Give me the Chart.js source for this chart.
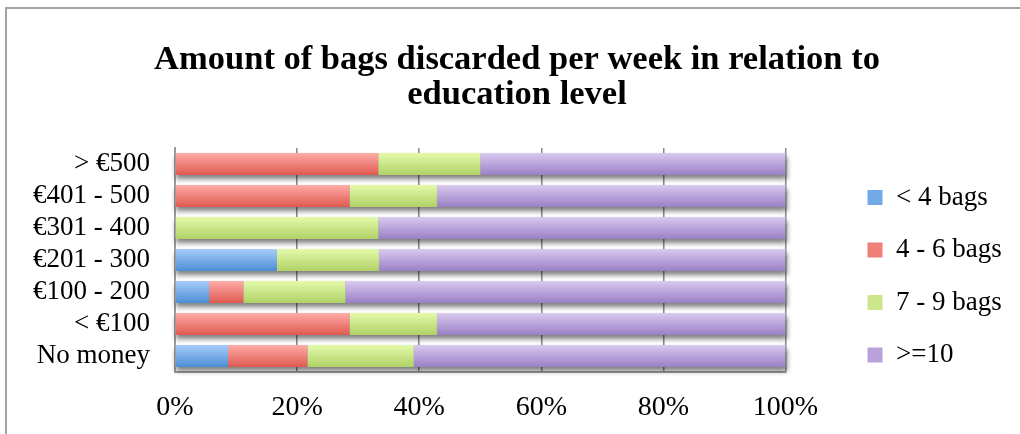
<!DOCTYPE html>
<html>
<head>
<meta charset="utf-8">
<script src="https://cdn.jsdelivr.net/npm/chart.js@4/dist/chart.umd.min.js"></script>
<style>
    body { margin: 0; background: #fff; }
    #wrap { position: relative; width: 1020px; height: 434px; overflow: hidden; }
    #frame {
        position: absolute; left: 5px; top: 7px; width: 1100px; height: 500px;
        border-top: 2px solid #a3a3a3; border-left: 2px solid #a3a3a3;
    }
    canvas { position: absolute; left: 0; top: 0; }
</style>
</head>
<body>
<div id="wrap">
    <div id="frame"></div>
    <canvas id="bags-chart" width="1020" height="434"></canvas>
</div>
<script>
let categories = ["> €500", "€401 - 500", "€301 - 400", "€201 - 300", "€100 - 200", "< €100", "No money"];
let seriesNames = ["< 4 bags", "4 - 6 bags", "7 - 9 bags", ">=10"];
let under4 = [0, 0, 0, 16.7, 5.6, 0, 8.7];
let from4to6 = [33.3, 28.6, 0, 0, 5.6, 28.6, 13.0];
let from7to9 = [16.7, 14.3, 33.3, 16.7, 16.7, 14.3, 17.4];
let over10 = [50, 57.1, 66.7, 66.6, 72.1, 57.1, 60.9];
let tickValues = [0, 20, 40, 60, 80, 100];

// light top / dark bottom for each series, plus a flat tone for the legend
let topColors = ["#a9cdf8", "#ffaca8", "#e4fbab", "#dacaf0"];
let bottomColors = ["#4b8dd6", "#de5950", "#afd166", "#9a80c4"];
let flatColors = ["#74a9e8", "#f07f78", "#cbe78a", "#b9a2dc"];

const BAR_H = 22;

function barGradient(ctx, i) {
    const chart = ctx.chart;
    const yScale = chart.scales.y;
    if (!yScale || ctx.dataIndex === undefined) return flatColors[i];
    const mid = yScale.getPixelForValue(ctx.dataIndex);
    if (!isFinite(mid)) return flatColors[i];
    const g = chart.ctx.createLinearGradient(0, mid - BAR_H / 2, 0, mid + BAR_H / 2);
    g.addColorStop(0, topColors[i]);
    g.addColorStop(1, bottomColors[i]);
    return g;
}

// grey drop shadow under each full bar, drawn before the bars
const barShadow = {
    id: "barShadow",
    beforeDatasetsDraw(chart) {
        const c = chart.ctx;
        const x = chart.scales.x;
        const meta = chart.getDatasetMeta(0);
        c.save();
        c.shadowColor = "rgba(0,0,0,0.5)";
        c.shadowBlur = 5;
        c.shadowOffsetY = 4;
        c.shadowOffsetX = 1;
        c.fillStyle = "#999";
        meta.data.forEach((bar) => {
            const x0 = x.getPixelForValue(0);
            const x1 = x.getPixelForValue(100);
            c.fillRect(x0, bar.y - bar.height / 2, x1 - x0, bar.height);
        });
        c.restore();
    },
};

let values = [under4, from4to6, from7to9, over10];
let datasets = values.map((v, i) => ({
    label: seriesNames[i],
    data: v,
    backgroundColor: (ctx) => barGradient(ctx, i),
    borderWidth: 0,
    barPercentage: BAR_H / 32,
    categoryPercentage: 1,
}));

Chart.defaults.font.family = "'Liberation Serif', 'Times New Roman', serif";
Chart.defaults.color = "#000";

const PAD_L = 29.5;
const PAD_R = 15.5;

new Chart(document.getElementById("bags-chart"), {
    type: "bar",
    data: { labels: categories, datasets: datasets },
    plugins: [barShadow],
    options: {
        indexAxis: "y",
        responsive: false,
        animation: false,
        layout: { padding: { left: PAD_L, right: PAD_R, top: 0, bottom: 0 } },
        scales: {
            x: {
                stacked: true,
                min: 0,
                max: 100,
                afterBuildTicks: (s) => { s.ticks = tickValues.map((v) => ({ value: v })); },
                ticks: { font: { size: 28 }, padding: 19, maxRotation: 0, callback: (v) => v + "%" },
                grid: { color: "#8a8a8a", lineWidth: 1.5, drawTicks: false },
                border: { color: "#9c9c9c", width: 2 },
                afterFit: (s) => { s.height = 434 - 372; },
            },
            y: {
                stacked: true,
                ticks: { font: { size: 27 }, padding: 25, autoSkip: false },
                grid: { display: false, drawTicks: false },
                border: { color: "#9c9c9c", width: 2 },
                afterFit: (s) => { s.width = 175 - PAD_L; },
            },
            gap: {
                type: "linear",
                axis: "y",
                position: "right",
                ticks: { display: false },
                grid: { display: false, drawTicks: false },
                border: { display: false },
                afterFit: (s) => { s.width = 56.5; },
            },
        },
        plugins: {
            title: {
                display: true,
                text: ["Amount of bags discarded per week in relation to", "education level"],
                font: { size: 34.5, weight: "bold", lineHeight: 35 / 34.5 },
                color: "#000",
                padding: { top: 43, bottom: 35 },
            },
            legend: {
                position: "right",
                align: "start",
                // empty title only pushes the items down
                title: { display: true, text: "", font: { size: 10, lineHeight: 1 }, padding: { top: 148.5, bottom: 0 } },
                labels: {
                    font: { size: 27 },
                    boxWidth: 15,
                    boxHeight: 15,
                    padding: 25.5,
                    generateLabels: (chart) =>
                        Chart.defaults.plugins.legend.labels.generateLabels(chart).map((l, i) => {
                            l.fillStyle = flatColors[i];
                            l.lineWidth = 0;
                            l.strokeStyle = "transparent";
                            return l;
                        }),
                },
            },
            tooltip: { enabled: false },
        },
    },
});
</script>
</body>
</html>
